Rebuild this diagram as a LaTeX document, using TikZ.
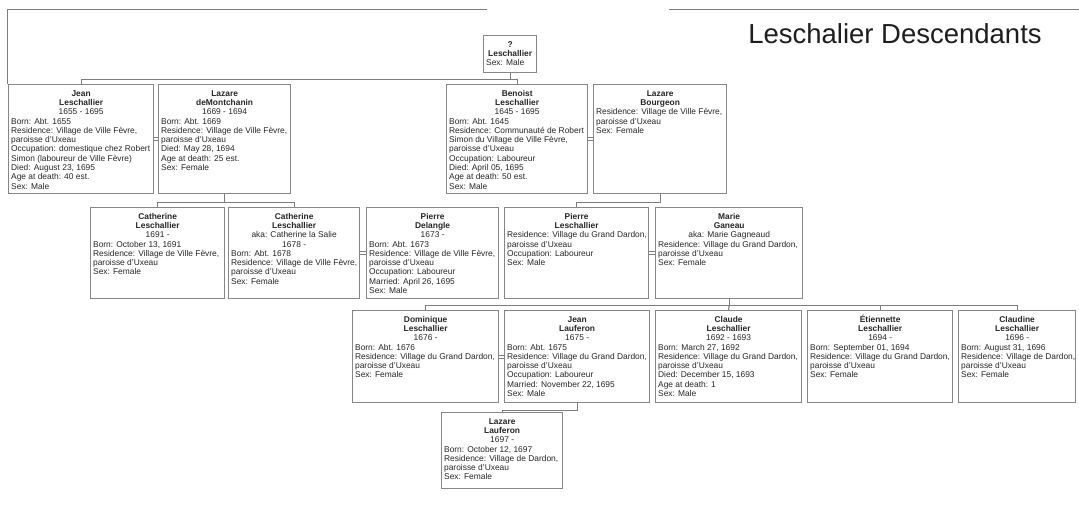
\documentclass[tikz,border=0pt]{standalone}
\usepackage{fontspec}
\setmainfont{Liberation Sans}
\definecolor{bordergray}{HTML}{868686}
\definecolor{linegray}{HTML}{7C7C7C}
\definecolor{textgray}{HTML}{262626}
\definecolor{titlegray}{HTML}{1E1E1E}
\newcommand\pb[3]{\parbox[c][\dimexpr#2pt-4pt\relax][t]{\dimexpr#1pt-5pt\relax}{\vspace*{3pt}\raggedright #3}}
\newcommand\hd[1]{{\centering\bfseries\strut #1\strut\par}}
\newcommand\ct[1]{{\centering\strut #1\strut\par}}
\newcommand\dl[1]{\begin{tabular}[t]{@{}l@{}}#1\end{tabular}\par}
\begin{document}
\begin{tikzpicture}[x=1pt,y=-1pt,
  person/.style={draw=bordergray, line width=1.3pt, fill=white, anchor=north west,
    inner xsep=2.5pt, inner ysep=2pt, text=textgray, font=\fontsize{8.4}{9.3}\selectfont},
  conn/.style={draw=linegray, line width=1.1pt},
  marr/.style={draw=linegray, line width=0.8pt},
  frame/.style={draw=linegray, line width=1pt}]
\useasboundingbox (0,0) rectangle (1079,513);
\fill[white] (0,0) rectangle (1079,513);

% page frame pieces
\draw[frame] (7,84) -- (7,10) -- (487,10);
\draw[frame] (669,10) -- (1079,10);

% title
\node[font=\fontsize{27.5}{30}\selectfont, text=titlegray, anchor=base] (title) at (895,44) {Leschalier Descendants};

% generation 0
\node[person] (root) at (483,35) {\pb{53}{37}{\hd{?\\Leschallier}\dl{Sex: Male}}};

% generation 1
\node[person] (jean) at (8,84) {\pb{145}{109}{\hd{Jean\\Leschallier}\ct{1655 - 1695}\dl{Born: Abt. 1655\\Residence: Village de Ville Fèvre,\\paroisse d'Uxeau\\Occupation: domestique chez Robert\\Simon (laboureur de Ville Fèvre)\\Died: August 23, 1695\\Age at death: 40 est.\\Sex: Male}}};
\node[person] (lazare1) at (158,84) {\pb{132}{109}{\hd{Lazare\\deMontchanin}\ct{1669 - 1694}\dl{Born: Abt. 1669\\Residence: Village de Ville Fèvre,\\paroisse d'Uxeau\\Died: May 28, 1694\\Age at death: 25 est.\\Sex: Female}}};
\node[person] (benoist) at (446,84) {\pb{141}{109}{\hd{Benoist\\Leschallier}\ct{1645 - 1695}\dl{Born: Abt. 1645\\Residence: Communauté de Robert\\Simon du Village de Ville Fèvre,\\paroisse d'Uxeau\\Occupation: Laboureur\\Died: April 05, 1695\\Age at death: 50 est.\\Sex: Male}}};
\node[person] (bourgeon) at (593,84) {\pb{133}{109}{\hd{Lazare\\Bourgeon}\dl{Residence: Village de Ville Fèvre,\\paroisse d'Uxeau\\Sex: Female}}};

% generation 2
\node[person] (cath1) at (90,207) {\pb{134}{91}{\hd{Catherine\\Leschallier}\ct{1691 -}\dl{Born: October 13, 1691\\Residence: Village de Ville Fèvre,\\paroisse d'Uxeau\\Sex: Female}}};
\node[person] (cath2) at (228,207) {\pb{131}{91}{\hd{Catherine\\Leschallier}\ct{aka: Catherine la Salie\\1678 -}\dl{Born: Abt. 1678\\Residence: Village de Ville Fèvre,\\paroisse d'Uxeau\\Sex: Female}}};
\node[person] (pdel) at (366,207) {\pb{132}{91}{\hd{Pierre\\Delangle}\ct{1673 -}\dl{Born: Abt. 1673\\Residence: Village de Ville Fèvre,\\paroisse d'Uxeau\\Occupation: Laboureur\\Married: April 26, 1695\\Sex: Male}}};
\node[person] (pierreL) at (504,207) {\pb{144}{91}{\hd{Pierre\\Leschallier}\dl{Residence: Village du Grand Dardon,\\paroisse d'Uxeau\\Occupation: Laboureur\\Sex: Male}}};
\node[person] (marie) at (655,207) {\pb{147}{91}{\hd{Marie\\Ganeau}\ct{aka: Marie Gagneaud}\dl{Residence: Village du Grand Dardon,\\paroisse d'Uxeau\\Sex: Female}}};

% generation 3
\node[person] (domin) at (352,310) {\pb{146}{92}{\hd{Dominique\\Leschallier}\ct{1676 -}\dl{Born: Abt. 1676\\Residence: Village du Grand Dardon,\\paroisse d'Uxeau\\Sex: Female}}};
\node[person] (jeanL) at (504,310) {\pb{145}{92}{\hd{Jean\\Lauferon}\ct{1675 -}\dl{Born: Abt. 1675\\Residence: Village du Grand Dardon,\\paroisse d'Uxeau\\Occupation: Laboureur\\Married: November 22, 1695\\Sex: Male}}};
\node[person] (claude) at (655,310) {\pb{146}{92}{\hd{Claude\\Leschallier}\ct{1692 - 1693}\dl{Born: March 27, 1692\\Residence: Village du Grand Dardon,\\paroisse d'Uxeau\\Died: December 15, 1693\\Age at death: 1\\Sex: Male}}};
\node[person] (etienne) at (807,310) {\pb{145}{92}{\hd{\smash{É}tiennette\\Leschallier}\ct{1694 -}\dl{Born: September 01, 1694\\Residence: Village du Grand Dardon,\\paroisse d'Uxeau\\Sex: Female}}};
\node[person] (claudine) at (958,310) {\pb{117}{92}{\hd{Claudine\\Leschallier}\ct{1696 -}\dl{Born: August 31, 1696\\Residence: Village de Dardon,\\paroisse d'Uxeau\\Sex: Female}}};

% generation 4
\node[person] (lazareL) at (441,412) {\pb{121}{76}{\hd{Lazare\\Lauferon}\ct{1697 -}\dl{Born: October 12, 1697\\Residence: Village de Dardon,\\paroisse d'Uxeau\\Sex: Female}}};

% marriages
\foreach \a/\b in {jean/lazare1, benoist/bourgeon, cath2/pdel, pierreL/marie, domin/jeanL}{
  \draw[marr] ([yshift=1.6pt]\a.east) -- ([yshift=1.6pt]\b.west);
  \draw[marr] ([yshift=-1.6pt]\a.east) -- ([yshift=-1.6pt]\b.west);
}

% descent lines
\draw[conn] (root.south) -- ++(0,6) coordinate (r0);
\draw[conn] (jean.north) |- (r0) -| (benoist.north);

\draw[conn] (lazare1.south) -- ++(0,8) coordinate (r1);
\draw[conn] (cath1.north) |- (r1) -| (cath2.north);

\draw[conn] (bourgeon.south) -- ++(0,8) -| (pierreL.north);

\draw[conn] (marie.south) -- ++(0,6) coordinate (r3);
\draw[conn] (domin.north) |- (r3) -| (claudine.north);
\draw[conn] (r3) -- (claude.north);
\draw[conn] (etienne.north) -- (etienne.north |- r3);

\draw[conn] (jeanL.south) -- ++(0,7) -| (lazareL.north);
\end{tikzpicture}
\end{document}
